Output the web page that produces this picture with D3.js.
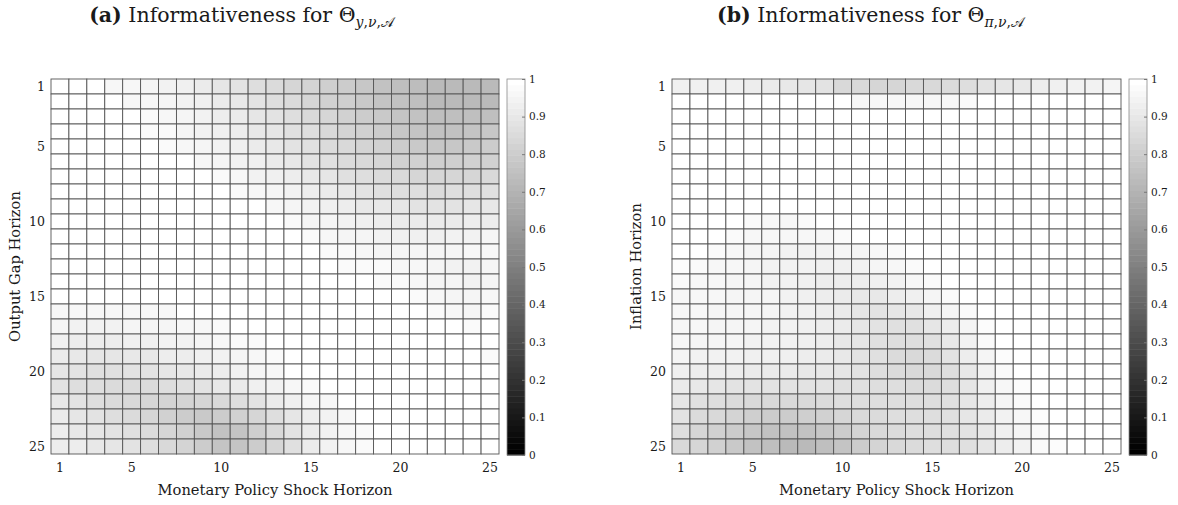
<!DOCTYPE html>
<html><head><meta charset="utf-8">
<script src="https://cdn.jsdelivr.net/npm/d3@7"></script>
<style>
body{margin:0;background:#fff}
svg{display:block}
text{font-family:"DejaVu Serif","Liberation Serif",serif;fill:#1a1a1a}
</style>
</head><body>
<svg id="chart" width="1178" height="505"></svg>
<script>
// ---------- data ----------
const horizons = [1,2,3,4,5,6,7,8,9,10,11,12,13,14,15,16,17,18,19,20,21,22,23,24,25];
const xTickLabels = [1,5,10,15,20,25];
const yTickLabels = [1,5,10,15,20,25];
const colorbarTicks = [0,0.1,0.2,0.3,0.4,0.5,0.6,0.7,0.8,0.9,1];
const titles = ["Informativeness for", "Informativeness for"];
const xLabel = "Monetary Policy Shock Horizon";
const yLabels = ["Output Gap Horizon", "Inflation Horizon"];

// panel (a): rows = output gap horizon 1..25, cols = shock horizon 1..25
const informY = [
 [1,1,1,.97,.97,.96,.95,.94,.92,.90,.89,.87,.86,.84,.83,.81,.80,.78,.76,.75,.74,.73,.73,.73,.73],
 [1,1,1,1,.97,.97,.96,.95,.94,.92,.91,.89,.87,.86,.84,.82,.81,.79,.77,.76,.75,.73,.73,.73,.73],
 [1,1,1,1,1,.98,.97,.96,.95,.93,.92,.90,.89,.87,.85,.84,.82,.80,.79,.77,.76,.75,.75,.75,.75],
 [1,1,1,1,1,.98,.98,.96,.95,.94,.93,.91,.90,.88,.87,.85,.83,.82,.80,.78,.77,.76,.76,.77,.78],
 [1,1,1,1,1,1,.98,.97,.96,.95,.94,.92,.91,.89,.88,.86,.85,.83,.82,.80,.79,.78,.78,.79,.80],
 [1,1,1,1,1,1,1,1,.97,.96,.95,.94,.92,.91,.89,.88,.86,.85,.84,.82,.82,.81,.81,.82,.82],
 [1,1,1,1,1,1,1,1,1,.98,.97,.95,.94,.93,.91,.90,.88,.87,.86,.85,.84,.84,.84,.84,.85],
 [1,1,1,1,1,1,1,1,1,1,.98,.97,.96,.95,.93,.92,.91,.89,.88,.87,.87,.86,.87,.87,.88],
 [1,1,1,1,1,1,1,1,1,1,1,1,.97,.96,.95,.94,.93,.91,.91,.90,.89,.89,.89,.90,.91],
 [1,1,1,1,1,1,1,1,1,1,1,1,1,.98,.96,.96,.95,.94,.93,.92,.92,.92,.92,.93,.93],
 [1,1,1,1,1,1,1,1,1,1,1,1,1,1,.98,.97,.96,.96,.95,.94,.94,.94,.95,.95,.96],
 [1,1,1,1,1,1,1,1,1,1,1,1,1,1,1,.98,.98,.97,.96,.96,.96,.96,.96,.97,.97],
 [1,1,1,1,1,1,1,1,1,1,1,1,1,1,1,1,.98,.98,.98,.97,.97,.96,.95,.95,.96],
 [1,1,1,1,1,1,1,1,1,1,1,1,1,1,1,1,1,1,.98,.98,.97,.96,.96,.95,.96],
 [1,1,1,1,1,1,1,1,1,1,1,1,1,1,1,1,1,1,1,1,.98,.97,.96,.96,.97],
 [.97,.97,.97,.97,.97,.97,.97,1,1,1,1,1,1,1,1,1,1,1,1,1,1,.98,.97,.96,.98],
 [.96,.95,.95,.95,.96,.96,.96,.97,.97,.98,1,1,1,1,1,1,1,1,1,1,1,1,1,.98,1],
 [.94,.93,.93,.93,.94,.94,.95,.95,.96,.97,.98,.98,1,1,1,1,1,1,1,1,1,1,1,1,1],
 [.92,.91,.90,.90,.91,.91,.93,.93,.94,.95,.96,.97,.98,1,1,1,1,1,1,1,1,1,1,1,.98],
 [.90,.89,.88,.88,.89,.89,.90,.91,.92,.93,.95,.96,.97,1,1,1,1,1,1,1,1,1,1,1,1],
 [.89,.87,.87,.86,.86,.86,.87,.88,.89,.91,.92,.94,.95,.97,.98,1,1,1,1,1,1,1,1,1,1],
 [.91,.89,.87,.86,.85,.84,.83,.83,.84,.85,.87,.89,.92,.94,.96,.97,1,1,1,1,1,1,1,1,1],
 [.92,.90,.89,.87,.86,.84,.82,.80,.79,.80,.82,.84,.87,.90,.93,.95,.97,1,1,1,1,1,1,1,1],
 [.93,.91,.90,.89,.88,.86,.84,.82,.79,.76,.77,.81,.85,.89,.92,.95,.97,.98,1,1,1,1,1,1,1],
 [.93,.93,.91,.90,.89,.87,.85,.83,.80,.77,.77,.80,.84,.88,.92,.95,.97,.98,1,1,1,1,1,1,1]
];

// panel (b): rows = inflation horizon 1..25, cols = shock horizon 1..25
const informPi = [
 [.94,.94,.94,.94,.93,.92,.91,.90,.89,.85,.85,.84,.84,.85,.85,.86,.87,.89,.90,.91,.93,.94,.95,.95,.96],
 [1,1,1,1,1,1,1,1,1,1,.97,.97,.97,.97,.97,.97,.98,1,1,1,1,1,1,1,1],
 [1,1,1,1,1,1,1,1,1,1,1,1,1,1,1,1,1,1,1,1,1,1,1,1,1],
 [1,1,1,1,1,1,1,1,1,1,1,1,1,1,1,1,1,1,1,1,1,1,1,1,1],
 [1,1,1,1,1,1,1,1,1,1,1,1,1,1,1,1,1,1,1,1,1,1,1,1,1],
 [1,1,1,1,1,1,1,1,1,1,1,1,1,1,1,1,1,1,1,1,1,1,1,1,1],
 [1,1,1,1,1,1,1,1,1,1,1,1,1,1,1,1,1,1,1,1,1,1,1,1,1],
 [1,1,1,1,1,1,1,1,1,1,1,1,1,1,1,1,1,1,1,1,1,1,1,1,1],
 [1,1,1,1,1,1,1,1,1,1,1,1,1,1,1,1,1,1,1,1,1,1,1,1,1],
 [1,1,1,1,.98,.97,.97,.98,1,1,1,1,1,1,1,1,1,1,1,1,1,1,1,1,1],
 [1,1,1,.98,.97,.97,.97,.97,.97,.98,1,1,1,1,1,1,1,1,1,1,1,1,1,1,1],
 [1,1,.98,.97,.96,.96,.95,.95,.95,.96,.96,.97,.98,1,1,1,1,1,1,1,1,1,1,1,1],
 [.99,.98,.97,.97,.96,.95,.95,.95,.94,.94,.95,.96,.97,.98,1,1,1,1,1,1,1,1,1,1,1],
 [.98,.97,.97,.96,.96,.95,.95,.94,.93,.93,.93,.94,.95,.97,.98,1,1,1,1,1,1,1,1,1,1],
 [.97,.97,.97,.96,.96,.96,.95,.94,.93,.92,.91,.91,.93,.94,.96,.98,1,1,1,1,1,1,1,1,1],
 [.97,.97,.96,.96,.96,.96,.95,.94,.93,.92,.90,.89,.90,.91,.94,.96,.98,1,1,1,1,1,1,1,1],
 [.97,.97,.96,.96,.96,.95,.95,.94,.93,.92,.90,.89,.88,.88,.90,.93,.96,.99,1,1,1,1,1,1,1],
 [.97,.96,.96,.96,.95,.95,.95,.94,.93,.91,.90,.88,.87,.87,.88,.91,.95,.98,1,1,1,1,1,1,1],
 [.96,.95,.95,.95,.94,.94,.94,.93,.92,.91,.89,.88,.86,.85,.86,.89,.93,.96,.99,1,1,1,1,1,1],
 [.94,.93,.93,.93,.92,.92,.92,.91,.91,.90,.89,.87,.86,.85,.85,.87,.91,.95,.98,1,1,1,1,1,1],
 [.92,.91,.90,.89,.89,.89,.89,.89,.89,.88,.88,.87,.87,.86,.86,.87,.90,.94,.97,.99,1,1,1,1,1],
 [.90,.88,.87,.86,.85,.85,.85,.85,.86,.87,.87,.87,.87,.87,.87,.88,.90,.93,.96,.98,1,1,1,1,1],
 [.89,.86,.85,.83,.81,.80,.80,.81,.82,.84,.85,.86,.87,.87,.87,.88,.90,.92,.95,.97,.99,1,1,1,1],
 [.87,.84,.82,.80,.78,.76,.76,.76,.78,.80,.83,.85,.86,.87,.87,.88,.89,.91,.94,.96,.98,1,1,1,1],
 [.85,.84,.82,.79,.76,.75,.73,.73,.75,.77,.80,.83,.85,.86,.87,.87,.88,.90,.93,.95,.98,.99,1,1,1]
];

// ---------- layout ----------
const svg = d3.select("#chart");
const panels = [
  {tag:"(a)", sub:["y","ν","𝒜"], data:informY, yLabel:yLabels[0], x0:51, x1:499, cbx:507, titleCx:241.5, yLabX:15},
  {tag:"(b)", sub:["π","ν","𝒜"], data:informPi, yLabel:yLabels[1], x0:672, x1:1121, cbx:1129, titleCx:870.5, yLabX:636}
];
const plotTop = 79, plotBottom = 454, cbW = 18;
const gray = d3.scaleLinear().domain([0,1]).range(["#000000","#ffffff"]).clamp(true);

panels.forEach((p, pi) => {
  const x = d3.scaleBand().domain(horizons).range([p.x0, p.x1]);
  const y = d3.scaleBand().domain(horizons).range([plotTop, plotBottom]);
  const g = svg.append("g");

  const cells = [];
  p.data.forEach((row, r) => row.forEach((v, c) => cells.push({r: horizons[r], c: horizons[c], v})));
  g.selectAll("rect.cell").data(cells).join("rect")
    .attr("class","cell")
    .attr("x", d => x(d.c)).attr("y", d => y(d.r))
    .attr("width", x.bandwidth()).attr("height", y.bandwidth())
    .attr("fill", d => gray(d.v))
    .attr("stroke", "#555").attr("stroke-width", 0.9);

  // x axis
  const xa = g.append("g").attr("transform", `translate(0,${plotBottom})`)
    .call(d3.axisBottom(x).tickValues(xTickLabels).tickSize(0).tickPadding(9));
  xa.select(".domain").remove();
  xa.selectAll("text").attr("font-size", 12.5).attr("font-family", '"DejaVu Serif",serif').attr("fill","#1a1a1a");

  // y axis
  const ya = g.append("g").attr("transform", `translate(${p.x0},0)`)
    .call(d3.axisLeft(y).tickValues(yTickLabels).tickSize(0).tickPadding(6));
  ya.select(".domain").remove();
  ya.selectAll("text").attr("font-size", 12.5).attr("font-family", '"DejaVu Serif",serif').attr("fill","#1a1a1a");

  // axis labels
  g.append("text").attr("x", (p.x0 + p.x1) / 2).attr("y", 495)
    .attr("text-anchor","middle").attr("font-size", 14.7).text(xLabel);
  g.append("text").attr("transform", `translate(${p.yLabX + 5},${(plotTop + plotBottom) / 2}) rotate(-90)`)
    .attr("text-anchor","middle").attr("font-size", 14.7).text(p.yLabel);

  // title
  const t = g.append("text").attr("x", p.titleCx).attr("y", 22)
    .attr("text-anchor","middle").attr("font-size", 20.5);
  t.append("tspan").attr("font-weight","bold").text(p.tag);
  t.append("tspan").text(" " + titles[pi] + " Θ");
  const s = t.append("tspan").attr("font-size", 14).attr("dy", 5);
  s.append("tspan").attr("font-style","italic").text(p.sub[0]);
  s.append("tspan").text(",");
  s.append("tspan").attr("font-style","italic").text(p.sub[1]);
  s.append("tspan").text(",");
  s.append("tspan").text(p.sub[2]);

  // colorbar
  const cb = d3.scaleLinear().domain([0,1]).range([plotBottom + 1, plotTop]);
  const nb = 64;
  const bands = d3.range(nb);
  g.selectAll("rect.cb").data(bands).join("rect").attr("class","cb")
    .attr("x", p.cbx).attr("width", cbW)
    .attr("y", i => cb((i + 1) / nb)).attr("height", i => cb(i / nb) - cb((i + 1) / nb) + 0.5)
    .attr("fill", i => gray(i / (nb - 1)));
  g.append("rect").attr("x", p.cbx).attr("y", plotTop).attr("width", cbW).attr("height", plotBottom + 1 - plotTop)
    .attr("fill","none").attr("stroke","#8a8a8a").attr("stroke-width",0.8);
  const ca = g.append("g").attr("transform", `translate(${p.cbx + cbW},0)`)
    .call(d3.axisRight(cb).tickValues(colorbarTicks).tickFormat(d3.format("~g")).tickSizeInner(-3).tickSizeOuter(0).tickPadding(4));
  ca.select(".domain").remove();
  ca.selectAll("line").attr("stroke","#777");
  ca.selectAll("text").attr("font-size", 10.5).attr("font-family", '"DejaVu Serif",serif').attr("fill","#1a1a1a");
});
</script>
</body></html>
